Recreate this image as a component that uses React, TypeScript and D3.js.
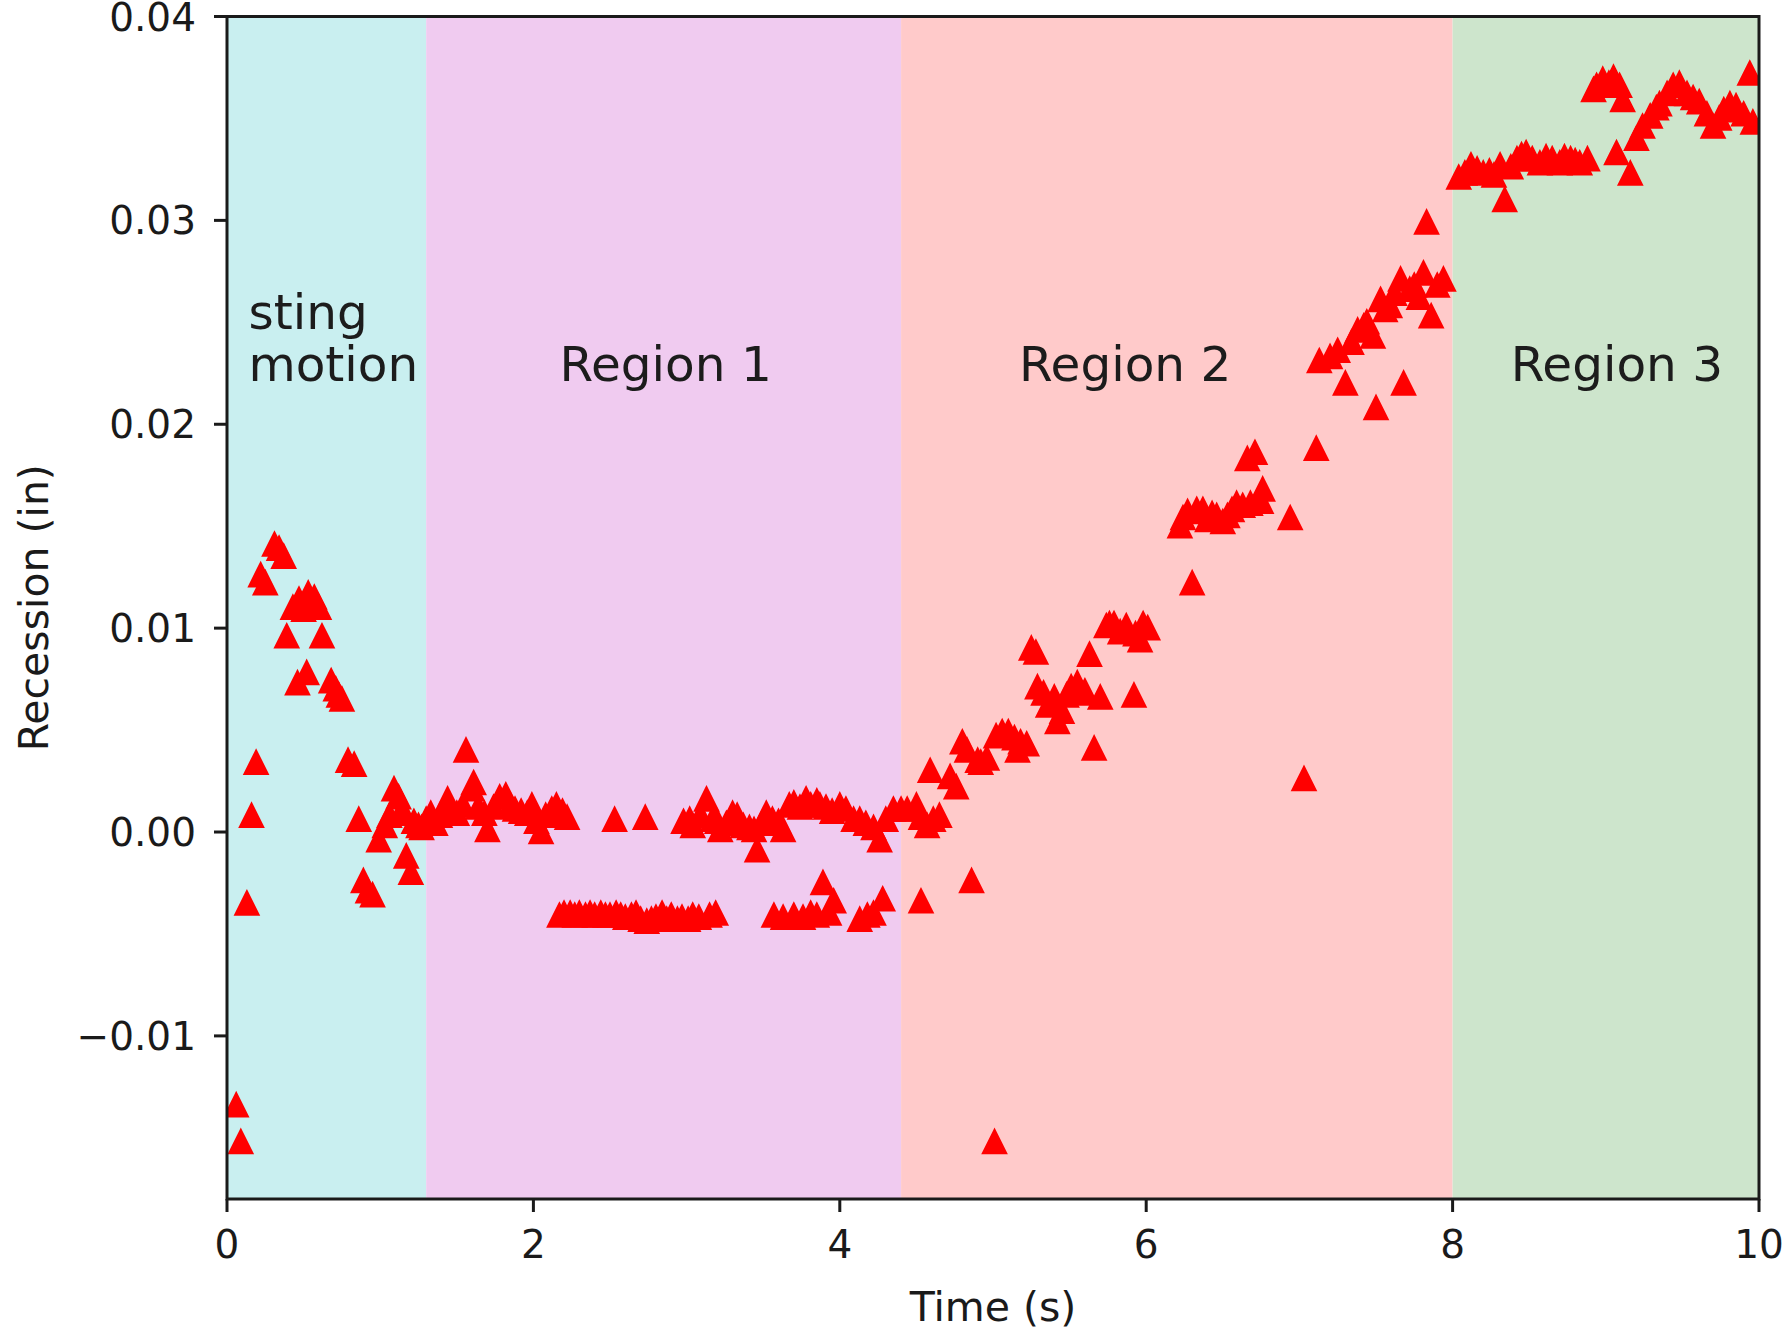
import React from "react";
import * as d3 from "d3";

// Recession of the sting surface over time, sampled points [time (s), recession (in)]
const stingMotion: [number, number][] = [
  [0.06, -0.0134], [0.09, -0.0152], [0.13, -0.0035], [0.16, 0.0008], [0.19, 0.0034],
  [0.22, 0.0126], [0.25, 0.0122], [0.31, 0.0141], [0.34, 0.0139], [0.37, 0.0135],
  [0.39, 0.0096], [0.43, 0.011], [0.46, 0.0073], [0.47, 0.0114], [0.5, 0.0109],
  [0.52, 0.0078], [0.53, 0.0117], [0.57, 0.0115], [0.6, 0.011], [0.62, 0.0096],
  [0.68, 0.0074], [0.71, 0.007], [0.73, 0.0067], [0.75, 0.0065], [0.79, 0.0035],
  [0.83, 0.0033], [0.86, 0.0006], [0.89, -0.0024], [0.92, -0.0029], [0.95, -0.0031],
  [0.99, -0.0004], [1.03, 0.0003], [1.06, 0.0008], [1.09, 0.0021], [1.12, 0.0017],
  [1.13, 0.0009], [1.15, 0.001], [1.17, -0.0012], [1.2, -0.002], [1.22, 0.0005],
  [1.25, 0.0003], [1.27, 0.0002],
];

const region1: [number, number][] = [
  [1.3, 0.0006], [1.33, 0.0009], [1.36, 0.0004], [1.39, 0.0008], [1.42, 0.0012],
  [1.44, 0.0016], [1.47, 0.001], [1.5, 0.0009], [1.54, 0.0013], [1.56, 0.004],
  [1.6, 0.0021], [1.61, 0.0024], [1.64, 0.0012], [1.68, 0.0009], [1.7, 0.0001],
  [1.74, 0.0012], [1.78, 0.0017], [1.82, 0.0018], [1.85, 0.0013], [1.88, 0.0011],
  [1.92, 0.001], [1.96, 0.0009], [1.99, 0.0013], [2.02, 0.0005], [2.05, 0.0],
  [2.08, 0.0008], [2.12, 0.0011], [2.15, 0.0013], [2.19, 0.001], [2.22, 0.0007],
  [2.17, -0.0041], [2.2, -0.004], [2.24, -0.004], [2.27, -0.0041], [2.3, -0.004],
  [2.34, -0.0041], [2.37, -0.004], [2.4, -0.0041], [2.44, -0.004], [2.47, -0.0041],
  [2.5, -0.0041], [2.54, -0.004], [2.57, -0.0041], [2.6, -0.0042], [2.64, -0.0041],
  [2.67, -0.004], [2.7, -0.0043], [2.74, -0.0044], [2.77, -0.0043], [2.8, -0.0042],
  [2.84, -0.004], [2.87, -0.0043], [2.9, -0.0041], [2.94, -0.0043], [2.97, -0.0042],
  [3.01, -0.0043], [3.04, -0.0041], [3.08, -0.0042], [3.15, -0.0041], [3.19, -0.004],
  [3.57, -0.0041], [3.63, -0.0042], [3.7, -0.0041], [3.76, -0.0042], [3.81, -0.004],
  [3.85, -0.0041], [3.89, -0.0025], [3.93, -0.004], [3.96, -0.0034], [4.13, -0.0043],
  [4.18, -0.0041], [4.22, -0.004], [4.28, -0.0033],
  [2.53, 0.0006], [2.73, 0.0007], [2.98, 0.0005], [3.02, 0.0006], [3.04, 0.0003],
  [3.09, 0.0008], [3.13, 0.0016], [3.17, 0.0006], [3.2, 0.0005], [3.22, 0.0001],
  [3.26, 0.0004], [3.3, 0.0009], [3.33, 0.0008], [3.37, 0.0003], [3.41, 0.0002],
  [3.44, 0.0001], [3.46, -0.0009], [3.49, 0.0004], [3.52, 0.0009], [3.56, 0.0006],
  [3.6, 0.0005], [3.63, 0.0001], [3.67, 0.0013], [3.7, 0.0014], [3.74, 0.0012],
  [3.78, 0.0016], [3.81, 0.0013], [3.85, 0.0015], [3.87, 0.0013], [3.91, 0.0012],
  [3.95, 0.001], [4.0, 0.0013], [4.04, 0.0011], [4.09, 0.0006], [4.13, 0.0006],
  [4.17, 0.0004], [4.22, 0.0002], [4.26, -0.0004], [4.3, 0.0006], [4.35, 0.0011],
];

const region2: [number, number][] = [
  [4.4, 0.0011], [4.44, 0.0011], [4.5, 0.0013], [4.53, 0.0007], [4.57, 0.0003],
  [4.61, 0.0006], [4.65, 0.0008], [4.53, -0.0034], [4.86, -0.0024], [5.01, -0.0152],
  [4.59, 0.003], [4.72, 0.0027], [4.76, 0.0022], [4.8, 0.0044], [4.83, 0.004],
  [4.9, 0.0035], [4.92, 0.0034], [4.96, 0.0036], [5.02, 0.0047], [5.06, 0.0049],
  [5.1, 0.0049], [5.14, 0.0046], [5.16, 0.004], [5.18, 0.0044], [5.22, 0.0043],
  [5.25, 0.009], [5.28, 0.0088], [5.29, 0.0071], [5.33, 0.0068], [5.36, 0.0062],
  [5.4, 0.0066], [5.42, 0.0054], [5.45, 0.0059], [5.48, 0.0067], [5.51, 0.0071],
  [5.55, 0.0073], [5.57, 0.0068], [5.6, 0.0069], [5.63, 0.0087], [5.66, 0.0041],
  [5.7, 0.0066], [5.74, 0.0101], [5.76, 0.0102], [5.79, 0.0102], [5.83, 0.0098],
  [5.87, 0.0101], [5.92, 0.0067], [5.93, 0.0097], [5.96, 0.0094], [5.98, 0.0102],
  [6.01, 0.01], [6.22, 0.015], [6.24, 0.0154], [6.27, 0.0157], [6.3, 0.0122],
  [6.33, 0.0158], [6.37, 0.0158], [6.4, 0.0153], [6.43, 0.0156], [6.46, 0.0155],
  [6.5, 0.0152], [6.53, 0.0155], [6.56, 0.0158], [6.59, 0.0161], [6.63, 0.016],
  [6.66, 0.0183], [6.68, 0.0161], [6.71, 0.0186], [6.75, 0.0162], [6.76, 0.0168],
  [6.94, 0.0154], [7.03, 0.0026], [7.11, 0.0188], [7.13, 0.0231], [7.2, 0.0233],
  [7.25, 0.0236], [7.3, 0.022], [7.34, 0.024], [7.38, 0.0246], [7.42, 0.0248],
  [7.44, 0.025], [7.48, 0.0243], [7.5, 0.0208], [7.53, 0.0261], [7.56, 0.0256],
  [7.59, 0.0258], [7.62, 0.0264], [7.66, 0.0271], [7.68, 0.022], [7.72, 0.0266],
  [7.75, 0.0268], [7.78, 0.0262], [7.81, 0.0274], [7.83, 0.0299], [7.86, 0.0253],
  [7.9, 0.0268], [7.94, 0.0271],
];

const region3: [number, number][] = [
  [8.04, 0.0321], [8.08, 0.0323], [8.12, 0.0327], [8.16, 0.0325], [8.2, 0.0323],
  [8.24, 0.0324], [8.27, 0.0322], [8.31, 0.0327], [8.34, 0.031], [8.38, 0.0326],
  [8.42, 0.033], [8.45, 0.0332], [8.48, 0.0333], [8.52, 0.033], [8.57, 0.0328],
  [8.61, 0.0331], [8.65, 0.033], [8.7, 0.0328], [8.73, 0.0331], [8.77, 0.033],
  [8.8, 0.0329], [8.83, 0.0328], [8.88, 0.033], [8.92, 0.0364], [8.94, 0.0366],
  [8.98, 0.0369], [9.02, 0.0367], [9.05, 0.037], [9.09, 0.0366], [9.07, 0.0333],
  [9.11, 0.0359], [9.16, 0.0323], [9.2, 0.034], [9.24, 0.0346], [9.29, 0.0351],
  [9.33, 0.0355], [9.35, 0.0357], [9.4, 0.0362], [9.44, 0.0366], [9.48, 0.0367],
  [9.53, 0.0362], [9.57, 0.036], [9.61, 0.0358], [9.66, 0.0352], [9.7, 0.0346],
  [9.74, 0.035], [9.77, 0.0354], [9.81, 0.0357], [9.85, 0.0356], [9.9, 0.0352],
  [9.94, 0.0372], [9.96, 0.0348],
];

// Time spans of the shaded phases
const spanBounds = [0, 1.3, 4.4, 8, 10];
const spanLabels = [["sting", "motion"], ["Region 1"], ["Region 2"], ["Region 3"]];
const spanLabelTime = [0.14, 2.17, 5.17, 8.38];
const spanLabelRecession = 0.0221;

const xTicks = [0, 2, 4, 6, 8, 10];
const yTicks = [-0.01, 0, 0.01, 0.02, 0.03, 0.04];

const WIDTH = 1787;
const HEIGHT = 1331;
const PLOT = { left: 227, right: 1759, top: 16.5, bottom: 1199 };
const SPAN_COLORS = ["#c9eff0", "#f0cbf0", "#ffcaca", "#cde5cc"];
const FONT = "DejaVu Sans, sans-serif";
const TICK_FONT = 39;
const AXIS_LABEL_FONT = 41;
const LABEL_FONT = 48.5;
const TICK_LEN = 13;
const LINE_W = 3;
const MARKER_HALF = 10.5;

export default function App() {
  const x = d3.scaleLinear().domain([0, 10]).range([PLOT.left, PLOT.right]);
  const y = d3.scaleLinear().domain([-0.018, 0.04]).range([PLOT.bottom, PLOT.top]);
  const yFmt = d3.format(".2f");
  const s = MARKER_HALF;
  const triangle = `M0,${-s}L${-s},${s}L${s},${s}Z`;
  const allPoints = [...stingMotion, ...region1, ...region2, ...region3];

  return (
    <svg
      width={WIDTH}
      height={HEIGHT}
      style={{ position: "absolute", left: 0, top: 0, background: "#fff" }}
      fontFamily={FONT}
    >
      <defs>
        <clipPath id="plot-clip">
          <rect
            x={PLOT.left}
            y={PLOT.top}
            width={PLOT.right - PLOT.left}
            height={PLOT.bottom - PLOT.top}
          />
        </clipPath>
      </defs>

      {/* shaded phases */}
      {spanBounds.slice(0, -1).map((start, i) => (
        <rect
          key={`span-${i}`}
          x={x(start)}
          y={PLOT.top}
          width={x(spanBounds[i + 1]) - x(start)}
          height={PLOT.bottom - PLOT.top}
          fill={SPAN_COLORS[i]}
        />
      ))}

      {/* phase labels */}
      {spanLabels.map((lines, i) => (
        <text
          key={`label-${i}`}
          x={x(spanLabelTime[i])}
          y={y(spanLabelRecession)}
          fontSize={LABEL_FONT}
          fill="#1c1c1c"
        >
          {lines.map((line, j) => (
            <tspan
              key={j}
              x={x(spanLabelTime[i])}
              dy={j === 0 ? -(lines.length - 1) * 52 : 52}
            >
              {line}
            </tspan>
          ))}
        </text>
      ))}

      {/* measured points */}
      <g clipPath="url(#plot-clip)">
        {allPoints.map(([t, v], i) => (
          <path
            key={`pt-${i}`}
            d={triangle}
            transform={`translate(${x(t)},${y(v)})`}
            fill="#ff0000"
            stroke="#ff0000"
            strokeWidth={3.5}
            strokeLinejoin="miter"
          />
        ))}
      </g>

      {/* frame */}
      <rect
        x={PLOT.left}
        y={PLOT.top}
        width={PLOT.right - PLOT.left}
        height={PLOT.bottom - PLOT.top}
        fill="none"
        stroke="#1a1a1a"
        strokeWidth={LINE_W}
      />

      {/* x axis */}
      {xTicks.map((t) => (
        <g key={`xt-${t}`}>
          <line
            x1={x(t)}
            x2={x(t)}
            y1={PLOT.bottom}
            y2={PLOT.bottom + TICK_LEN}
            stroke="#1a1a1a"
            strokeWidth={LINE_W}
          />
          <text
            x={x(t)}
            y={1258}
            textAnchor="middle"
            fontSize={TICK_FONT}
            fill="#1a1a1a"
          >
            {d3.format("d")(t)}
          </text>
        </g>
      ))}

      {/* y axis */}
      {yTicks.map((v) => (
        <g key={`yt-${v}`}>
          <line
            x1={PLOT.left - TICK_LEN}
            x2={PLOT.left}
            y1={y(v)}
            y2={y(v)}
            stroke="#1a1a1a"
            strokeWidth={LINE_W}
          />
          <text
            x={PLOT.left - 31}
            y={y(v) + 14}
            textAnchor="end"
            fontSize={TICK_FONT}
            fill="#1a1a1a"
          >
            {yFmt(v)}
          </text>
        </g>
      ))}

      <text
        x={(PLOT.left + PLOT.right) / 2}
        y={1321}
        textAnchor="middle"
        fontSize={AXIS_LABEL_FONT}
        fill="#1a1a1a"
      >
        Time (s)
      </text>
      <text
        transform={`translate(48,${(PLOT.top + PLOT.bottom) / 2}) rotate(-90)`}
        textAnchor="middle"
        fontSize={AXIS_LABEL_FONT}
        fill="#1a1a1a"
      >
        Recession (in)
      </text>
    </svg>
  );
}
